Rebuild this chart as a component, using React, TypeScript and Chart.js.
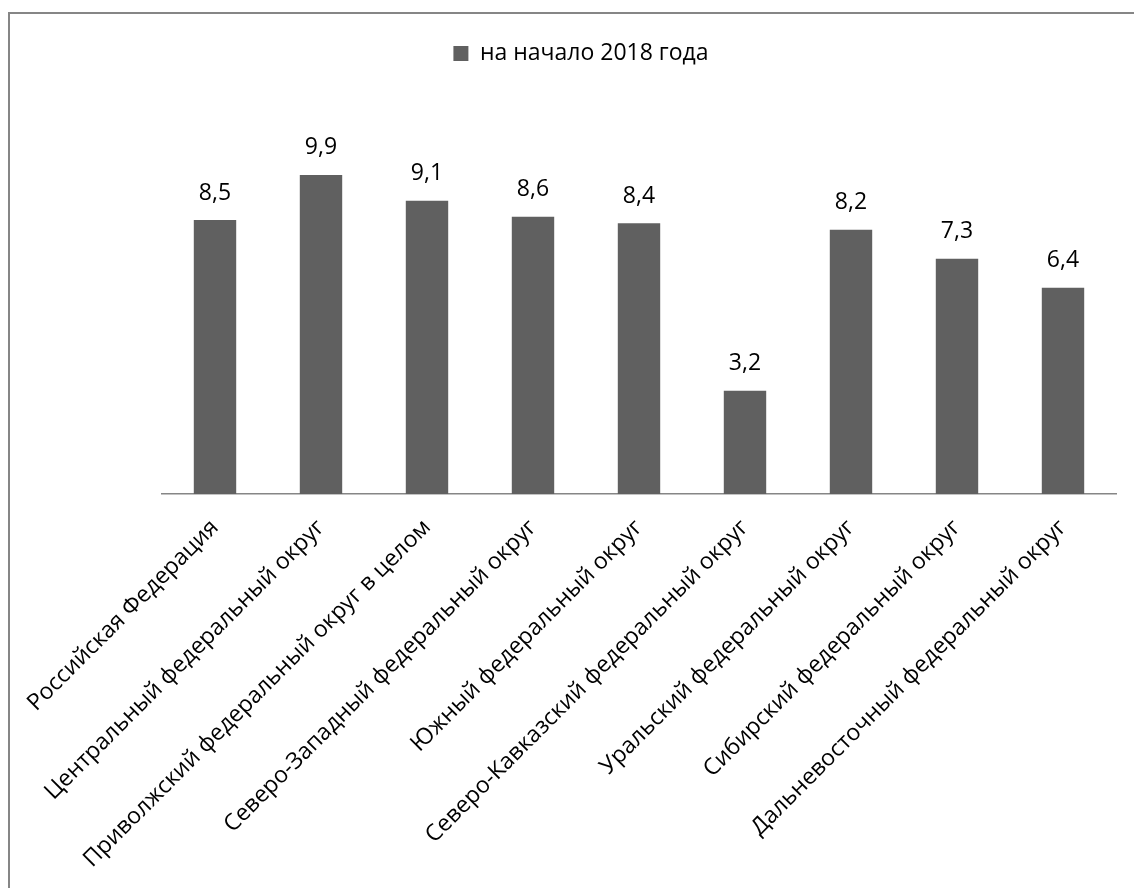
import React, { useEffect, useRef } from "react";
import { Chart, registerables } from "chart.js";

Chart.register(...registerables);

const categories: string[] = [
  "Российская Федерация",
  "Центральный федеральный округ",
  "Приволжский федеральный округ в целом",
  "Северо-Западный федеральный округ",
  "Южный федеральный округ",
  "Северо-Кавказский федеральный округ",
  "Уральский федеральный округ",
  "Сибирский федеральный округ",
  "Дальневосточный федеральный округ",
];

const values2018: number[] = [8.5, 9.9, 9.1, 8.6, 8.4, 3.2, 8.2, 7.3, 6.4];

const seriesLabel = "на начало 2018 года";

const BAR_COLOR = "#606060";
const FONT = "'Open Sans', 'DejaVu Sans', sans-serif";

const valueLabels = {
  id: "valueLabels",
  afterDatasetsDraw(chart: any) {
    const ctx = chart.ctx;
    const meta = chart.getDatasetMeta(0);
    const data = chart.data.datasets[0].data as number[];
    ctx.save();
    ctx.font = `23px ${FONT}`;
    ctx.fillStyle = "#000";
    ctx.textAlign = "center";
    ctx.textBaseline = "middle";
    meta.data.forEach((el: any, i: number) => {
      const txt = String(data[i]).replace(".", ",");
      ctx.fillText(txt, el.x, el.y - 27);
    });
    ctx.restore();
  },
};

export default function App() {
  const ref = useRef<HTMLCanvasElement | null>(null);

  useEffect(() => {
    if (!ref.current) return;
    const chart = new Chart(ref.current, {
      type: "bar",
      data: {
        labels: categories,
        datasets: [
          {
            label: seriesLabel,
            data: values2018,
            backgroundColor: BAR_COLOR,
            borderWidth: 0,
            barPercentage: 0.4,
            categoryPercentage: 1,
          },
        ],
      },
      options: {
        responsive: false,
        animation: false,
        devicePixelRatio: 1,
        layout: { padding: { top: 32, left: 46, right: 18, bottom: 0 } },
        plugins: {
          legend: {
            display: true,
            position: "top",
            labels: {
              boxWidth: 15,
              boxHeight: 15,
              color: "#000",
              padding: 10,
              font: { family: FONT, size: 23 },
            },
          },
          tooltip: { enabled: false },
        },
        scales: {
          x: {
            grid: { display: false, drawTicks: false },
            border: { display: true, color: "#868686", width: 1.5 },
            ticks: {
              autoSkip: false,
              maxRotation: 45,
              minRotation: 45,
              color: "#000",
              padding: 20,
              font: { family: FONT, size: 23 },
            },
            afterFit(scale: any) {
              scale.height = 888 - 494;
              scale.paddingLeft = 0;
              scale.paddingRight = 0;
            },
          },
          y: {
            display: true,
            min: 0,
            max: 13,
            grid: { display: false, drawTicks: false },
            border: { display: false },
            ticks: { display: false },
            afterFit(scale: any) {
              scale.width = 162 - 46;
            },
          },
        },
      },
      plugins: [valueLabels],
    });
    return () => chart.destroy();
  }, []);

  return (
    <div
      style={{
        position: "fixed",
        left: 0,
        top: 0,
        width: 1134,
        height: 888,
        overflow: "hidden",
        background: "#fff",
      }}
    >
      <div
        style={{
          position: "absolute",
          left: 8,
          top: 12,
          width: 1300,
          height: 1000,
          borderLeft: "2px solid #868686",
          borderTop: "2px solid #868686",
        }}
      />
      <canvas
        ref={ref}
        width={1134}
        height={888}
        style={{ position: "absolute", left: 0, top: 0 }}
      />
    </div>
  );
}
